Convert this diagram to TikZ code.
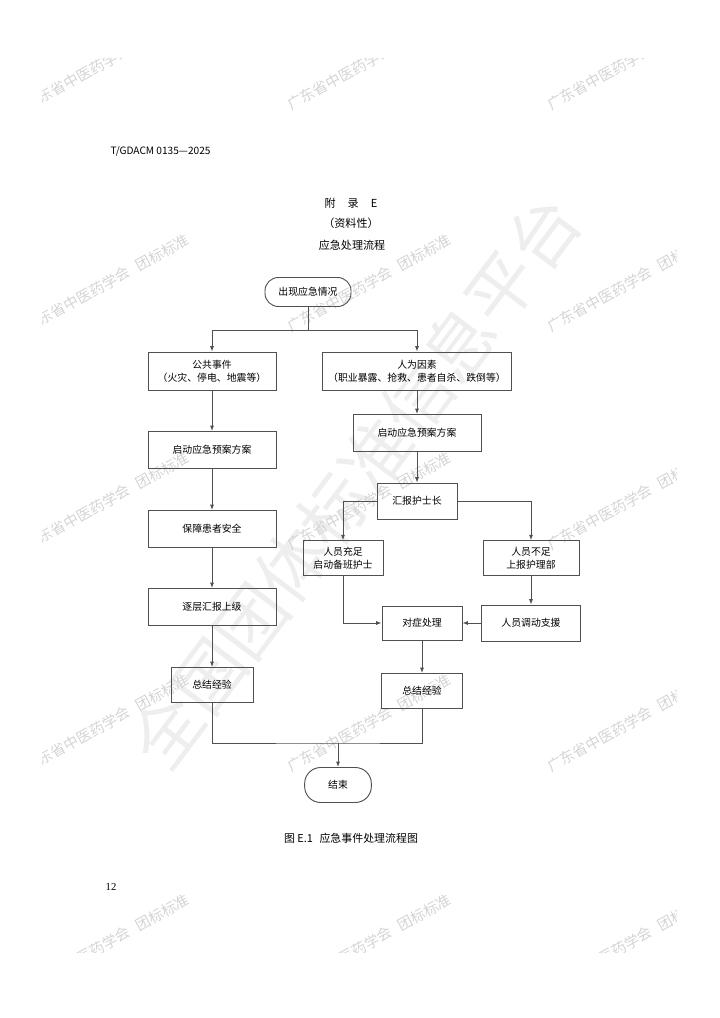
\documentclass[tikz,border=0pt]{standalone}
\usepackage{fontspec}
\setmainfont{Noto Sans CJK SC}
\newfontfamily\numfont{Liberation Serif}
\usetikzlibrary{arrows.meta,positioning,calc}
\definecolor{flowline}{RGB}{80,80,80}
\definecolor{wmgray}{RGB}{212,212,212}
\definecolor{bigmark}{RGB}{238,238,238}

\begin{document}
\begin{tikzpicture}[x=0.75pt,y=-0.75pt,
    every node/.style={font=\fontsize{7.4}{9.8}\selectfont},
    box/.style={draw=flowline,line width=0.7pt,minimum height=27.75pt,align=center,inner sep=1pt},
    term/.style={box,rounded corners=10pt},
    arr/.style={-{Latex[length=4pt,width=3pt]},flowline,line width=0.7pt},
    lnk/.style={flowline,line width=0.7pt},
    wmark/.style={wmgray,rotate=29,anchor=base west,font=\fontsize{11}{12}\selectfont}]
    \useasboundingbox (0,0) rectangle (720,1018);
    % Watermarks
    \node[bigmark,rotate=53,font=\fontsize{52}{52}\selectfont] (platform) at (355,482) {全国团体标准信息平台};
    \begin{scope}
      \clip (42,58) rectangle (676,952);
      \foreach \wx in {25,287,547}{
        \foreach \wy in {113,335,553,775,995}{
          \node[wmark] (wm-\wx-\wy) at (\wx,\wy) {广东省中医药学会\hspace{0.6em}团标标准};
        }
      }
    \end{scope}
    % Page head
    \node[anchor=west,font=\fontsize{7.6}{9}\selectfont] (docno) at (106,151) {T/GDACM 0135—2025};
    \node[font=\fontsize{8.3}{10}\selectfont] (annex) at (351,203) {附\hspace{1.1em}录\hspace{1.1em}E};
    \node[font=\fontsize{8.3}{10}\selectfont] (nature) at (351,223) {（资料性）};
    \node[font=\fontsize{8.3}{10}\selectfont] (title) at (352,245) {应急处理流程};
    % Flow steps
    \node[term,minimum width=64.5pt,minimum height=21.75pt] (start) at (308,292) {出现应急情况};
    \node[box,minimum width=96pt,minimum height=28.5pt] (public) at (212,371) {公共事件\\（火灾、停电、地震等）};
    \node[box,minimum width=141.75pt,minimum height=28.5pt] (human) at (417,371) {人为因素\\（职业暴露、抢救、患者自杀、跌倒等）};
    \node[box,minimum width=96pt] (planL) at (212,450) {启动应急预案方案};
    \node[box,minimum width=96pt] (planR) at (417,433) {启动应急预案方案};
    \node[box,minimum width=60pt,minimum height=27pt] (report) at (417,501) {汇报护士长};
    \node[box,minimum width=96pt] (safe) at (212,529) {保障患者安全};
    \node[box,minimum width=60pt,minimum height=26pt] (enough) at (343,558) {人员充足\\启动备班护士};
    \node[box,minimum width=72pt,minimum height=26pt] (lack) at (531,558) {人员不足\\上报护理部};
    \node[box,minimum width=96pt] (upward) at (212,607) {逐层汇报上级};
    \node[box,minimum width=60pt,minimum height=25.5pt] (treat) at (422,623) {对症处理};
    \node[box,minimum width=74pt,minimum height=27pt] (support) at (531,623) {人员调动支援};
    \node[box,minimum width=61.5pt,minimum height=26.25pt] (sumL) at (212,685) {总结经验};
    \node[box,minimum width=61pt,minimum height=26.25pt] (sumR) at (422,691) {总结经验};
    \node[term,minimum width=50pt,minimum height=26.25pt,rounded corners=12pt] (finish) at (338,785) {结束};
    % Connectors
    \coordinate (fork) at (308,330);
    \coordinate (merge) at (338,743);
    \draw[lnk] (start) -- (fork);
    \draw[arr] (fork) -| (public);
    \draw[arr] (fork) -| (human);
    \draw[arr] (public) -- (planL);
    \draw[arr] (planL) -- (safe);
    \draw[arr] (safe) -- (upward);
    \draw[arr] (upward) -- (sumL);
    \draw[arr] (human) -- (planR);
    \draw[arr] (planR) -- (report);
    \draw[arr] (report) -| (enough);
    \draw[arr] (report) -| (lack);
    \draw[arr] (enough) |- (treat);
    \draw[arr] (lack) -- (support);
    \draw[arr] (support) -- (treat);
    \draw[arr] (treat) -- (sumR);
    \draw[lnk] (sumL) |- (merge) -| (sumR);
    \draw[arr] (merge) -- (finish);
    % Caption and page number
    \node[font=\fontsize{8.2}{10}\selectfont] (caption) at (351,838) {图 E.1\hspace{0.6em}应急事件处理流程图};
    \node[font=\numfont\fontsize{8}{10}\selectfont] (pageno) at (111,887) {12};
\end{tikzpicture}
\end{document}
